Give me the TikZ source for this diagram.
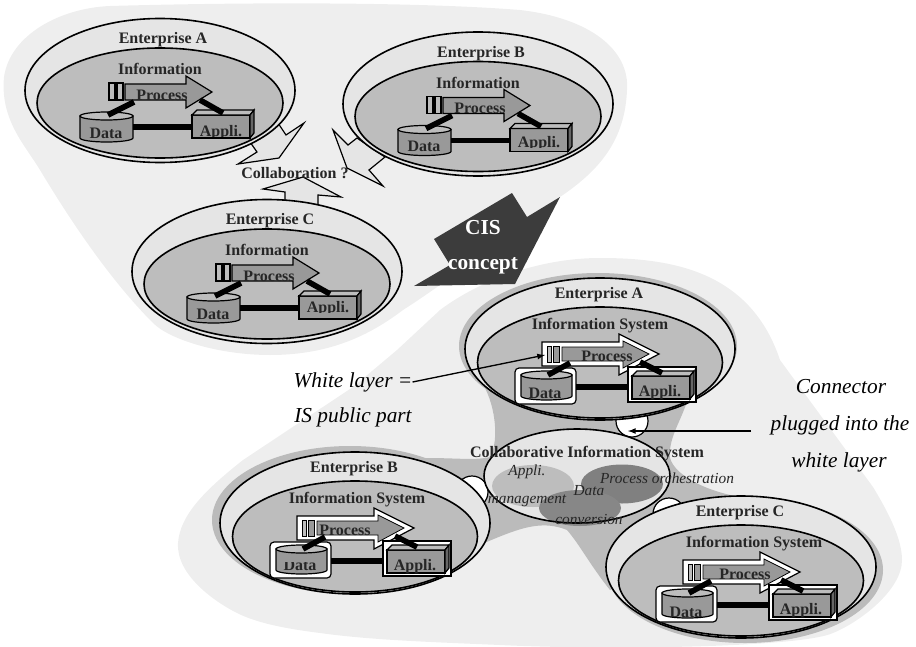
\documentclass[tikz,border=0pt]{standalone}
\usepackage{fontspec}
\setmainfont{Liberation Serif}
\definecolor{blobc}{HTML}{EEEEEE}
\definecolor{outerc}{HTML}{E5E5E5}
\definecolor{innerc}{HTML}{BDBDBD}
\definecolor{midc}{HTML}{999999}
\definecolor{starc}{HTML}{BBBBBB}
\definecolor{darkc}{HTML}{3C3C3C}
\tikzset{
  ell/.style={draw=black,line width=1.2pt},
  thin line/.style={draw=black,line width=0.9pt},
  link/.style={draw=black,line width=4.2pt},
  title/.style={font=\bfseries\fontsize{12}{12}\selectfont,text=black!85,inner sep=0pt},
  boldsmall/.style={font=\bfseries\fontsize{12}{12}\selectfont,text=black!85,inner sep=0pt,anchor=base},
  note/.style={font=\itshape\fontsize{16}{16}\selectfont,inner sep=0pt},
  blobtext/.style={font=\itshape\fontsize{11.5}{12}\selectfont,text=black!85,inner sep=0pt},
  collab/.style={draw=black,line width=0.9pt,fill=outerc,line join=miter},
  plugcap/.style={draw=black,line width=0.9pt,fill=white,circle,minimum size=24pt,inner sep=0pt},
}
% upper enterprise: prefix, dx, dy, title, Appli baseline
\newcommand{\upperent}[5]{%
\begin{scope}[shift={(#2,#3)}]
  \path[ell,fill=outerc] (160,90.5) ellipse [x radius=135,y radius=72];
  \path[ell,fill=innerc] (160,103) ellipse [x radius=123,y radius=55];
  \node[title] (#1-title) at (163,40) {#4};
  \node[title] (#1-info) at (160,69) {Information};
  \path[thin line,fill=innerc] (109,83) rectangle (115,100);
  \path[thin line,fill=innerc] (117,83) rectangle (123,100);
  \path[thin line,fill=midc] (125,84) -- (186,84) -- (186,76) -- (212,92) -- (186,108) -- (186,100) -- (125,100) -- cycle;
  \node[title] (#1-proc) at (162,95) {Process};
  \coordinate (#1-p1) at (134,102); \coordinate (#1-d1) at (108,115);
  \coordinate (#1-p2) at (200,100); \coordinate (#1-a2) at (223,113);
  \coordinate (#1-d2) at (133,127); \coordinate (#1-a1) at (192,127);
  \path[thin line,fill=midc] (80,116) -- (80,138) arc [start angle=180,end angle=0,x radius=26.5,y radius=4] -- (133,116) -- cycle;
  \path[thin line,fill=innerc] (106.5,116) ellipse [x radius=26.5,y radius=4];
  \path[thin line,fill=midc] (192,115) rectangle (250,138);
  \path[thin line,fill=innerc] (192,115) -- (197,110) -- (254,110) -- (250,115) -- cycle;
  \path[thin line,fill=black!60] (250,115) -- (254,110) -- (254,133) -- (250,138) -- cycle;
  \draw[link] (#1-p1) -- (#1-d1);
  \draw[link] (#1-p2) -- (#1-a2);
  \draw[link] (#1-d2) -- (#1-a1);
  \node[boldsmall] (#1-data) at (106,138) {Data};
  \begin{scope}
    \clip (190,100) rectangle (252,#5);
    \node[boldsmall] (#1-appli) at (221,#5) {Appli.};
  \end{scope}
\end{scope}}
% lower enterprise: prefix, dx, dy, title, IS dx, process dx, Data clip top, Data baseline
\newcommand{\lowerent}[8]{%
\begin{scope}[shift={(#2,#3)}]
  \path[ell,fill=outerc] (600,349) ellipse [x radius=135,y radius=71];
  \path[ell,fill=innerc] (600,362.5) ellipse [x radius=122.5,y radius=55.5];
  \node[title] (#1-title) at (599,295) {#4};
  \node[title] (#1-is) at ({600+#5},326) {Information System};
  \path[thin line,fill=white] (542,342) -- (619,342) -- (619,334) -- (659,354) -- (619,375) -- (619,366) -- (542,366) -- cycle;
  \path[thin line,fill=midc,line width=0.6pt] (562,347) -- (623,347) -- (623,341) -- (649,354) -- (623,368) -- (623,361) -- (562,361) -- cycle;
  \path[thin line,fill=innerc,line width=0.6pt] (547,346) rectangle (551,362);
  \path[thin line,fill=midc,line width=0.6pt] (553,346) rectangle (559,362);
  \coordinate (#1-bar) at (545,355);
  \node[title] (#1-proc) at ({607+#6},356) {Process};
  \path[thin line,fill=white,rounded corners=3] (515,368) rectangle (576,404);
  \path[thin line,fill=midc] (521,375) -- (521,396) arc [start angle=180,end angle=0,x radius=25.5,y radius=4] -- (572,375) -- cycle;
  \path[thin line,fill=innerc] (546.5,375) ellipse [x radius=25.5,y radius=4];
  \path[thin line,fill=white] (628,367) rectangle (696,402);
  \path[thin line,fill=midc] (632,376) rectangle (690,399);
  \path[thin line,fill=innerc] (632,376) -- (637,371) -- (694,371) -- (690,376) -- cycle;
  \path[thin line,fill=black!60] (690,376) -- (694,371) -- (694,394) -- (690,399) -- cycle;
  \coordinate (#1-p1) at (570,363); \coordinate (#1-d1) at (548,375);
  \coordinate (#1-p2) at (640,362); \coordinate (#1-a2) at (662,373);
  \coordinate (#1-d2) at (576,387); \coordinate (#1-a1) at (628,387);
  \draw[link] (#1-p1) -- (#1-d1);
  \draw[link] (#1-p2) -- (#1-a2);
  \draw[link] (#1-d2) -- (#1-a1);
  \begin{scope}
    \clip (520,#7) rectangle (572,402);
    \node[boldsmall] (#1-data) at (545,#8) {Data};
  \end{scope}
  \node[boldsmall] (#1-appli) at (660,396) {Appli.};
\end{scope}}
\begin{document}
\begin{tikzpicture}[x=0.75pt,y=-0.75pt]
\useasboundingbox (0,0) rectangle (916,646);
% upper background
\fill[blobc] (4,77) .. controls (10,35) and (60,8) .. (110,6)
  .. controls (250,2) and (420,2) .. (520,10)
  .. controls (590,18) and (630,50) .. (627,90)
  .. controls (625,140) and (600,170) .. (560,197)
  .. controls (500,240) and (450,280) .. (403,310)
  .. controls (370,335) and (330,355) .. (270,355)
  .. controls (220,355) and (170,340) .. (153,323)
  .. controls (110,280) and (70,220) .. (40,170)
  .. controls (25,145) and (0,120) .. (4,77) -- cycle;
% lower background
\fill[blobc] (178,543) .. controls (180,515) and (205,490) .. (243,460)
  -- (353,387) -- (397,350) -- (440,310)
  .. controls (480,280) and (540,258) .. (600,258)
  .. controls (670,258) and (750,270) .. (780,360)
  -- (873,487) .. controls (890,515) and (902,540) .. (902,560)
  .. controls (902,590) and (860,622) .. (833,633)
  .. controls (800,648) and (600,650) .. (500,645)
  .. controls (430,642) and (370,640) .. (320,633)
  .. controls (280,628) and (255,622) .. (237,613)
  .. controls (215,602) and (176,575) .. (178,543) -- cycle;
% grey star joining the enterprises
\fill[starc] (480,380) .. controls (495,400) and (500,440) .. (490,457)
  .. controls (470,462) and (440,455) .. (400,460) -- (400,540)
  -- (440,560) .. controls (500,540) and (530,515) .. (567,530)
  .. controls (580,545) and (590,565) .. (610,590) -- (760,540) -- (740,497)
  .. controls (700,490) and (665,470) .. (670,450)
  .. controls (672,430) and (685,415) .. (690,390) -- cycle;
% collaboration arrows
\path[collab] (278,123) -- (286,135) -- (304,123) -- (279,158) -- (238,164) -- (257,152) -- (250,142) -- cycle;
\path[collab] (333,130) -- (348,145) -- (357,138) -- (385,157) -- (369,170) -- (383,186) -- (347,168) -- cycle;
\path[collab] (285,205) -- (285,192) -- (263,189) -- (303,177) -- (341,197) -- (318,195) -- (318,205) -- cycle;
% halos
\fill[starc] (598,346) ellipse [x radius=139,y radius=73];
\fill[starc] (350,520) ellipse [x radius=138,y radius=74];
\fill[starc] (745,570) ellipse [x radius=138,y radius=73];
% white connector plugs
\node[plugcap] (plugA) at (632,421) {};
\node[plugcap] (plugB) at (472,492) {};
\node[plugcap] (plugC) at (669,514) {};
% upper enterprises
\upperent{ua}{0}{0}{Enterprise A}{136}
\upperent{ub}{318}{13.5}{Enterprise B}{133.5}
\upperent{uc}{107}{181}{Enterprise C}{131}
\node[title] (collabtext) at (295,173) {Collaboration ?};
% CIS concept arrow
\fill[darkc] (414,286) -- (515,284) -- (560,197) -- (527,217) -- (512,193) -- (434,239) -- (450,265) -- cycle;
\node[font=\bfseries\fontsize{16}{16}\selectfont,text=white,inner sep=0pt] (cis) at (483,228) {CIS};
\node[font=\bfseries\fontsize{16}{16}\selectfont,text=white,inner sep=0pt] (concept) at (483,266) {concept};
% lower enterprises
\lowerent{la}{0}{0}{Enterprise A}{0}{0}{370}{398}
\lowerent{lb}{-245}{174}{Enterprise B}{2}{-17}{388}{396}
\lowerent{lc}{141}{218}{Enterprise C}{13}{-3}{370}{399}
% collaborative IS
\fill[outerc] (577,476) ellipse [x radius=93,y radius=47];
\fill[innerc] (533,486) ellipse [x radius=41,y radius=21];
\fill[black!50] (622,484) ellipse [x radius=41,y radius=19.5];
\fill[black!47] (580,508) ellipse [x radius=41,y radius=18];
\path[ell] (577,476) ellipse [x radius=93,y radius=47];
\node[title] (cistitle) at (587,454) {Collaborative Information System};
\node[blobtext] (b1) at (527,472) {Appli.};
\node[blobtext] (b2) at (527,501) {management};
\node[blobtext] (b3) at (589,491) {Data};
\node[blobtext] (b4) at (589,519) {conversion};
\node[blobtext] (b5) at (667,478) {Process orchestration};
% notes
\node[note] (wl1) at (353,382) {White layer =};
\node[note] (wl2) at (353,417) {IS public part};
\draw[-latex,line width=1pt] (wl1.east) -- (la-bar);
\node[note] (cn1) at (841,387) {Connector};
\node[note] (cn2) at (840,425) {plugged into the};
\node[note] (cn3) at (839,462) {white layer};
\coordinate (cnend) at (751,431);
\draw[-latex,line width=1pt,shorten >=-3pt] (cnend) -- (plugA.center |- cnend);
\end{tikzpicture}
\end{document}
